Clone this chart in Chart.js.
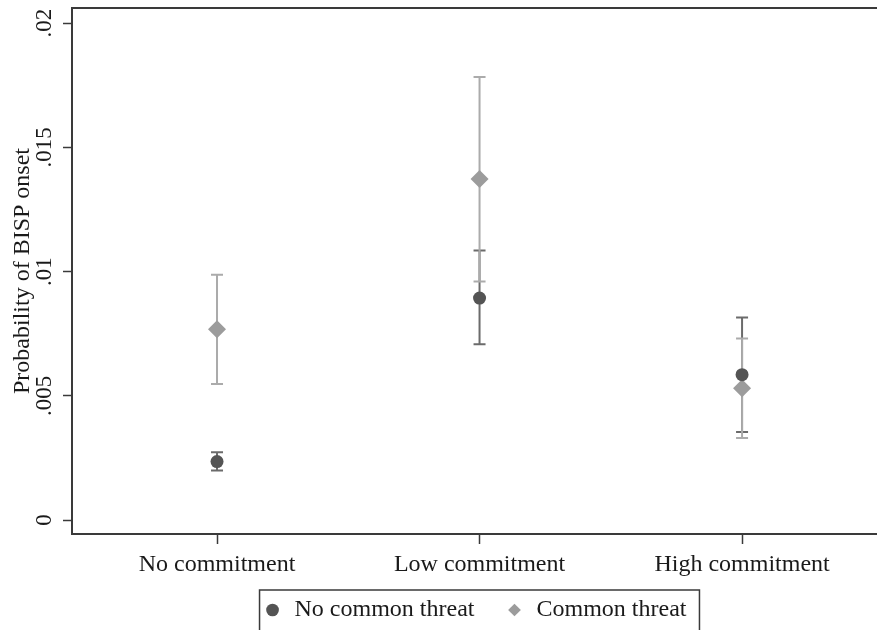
<!DOCTYPE html>
<html>
<head>
<meta charset="utf-8">
<script src="https://cdn.jsdelivr.net/npm/chart.js@4.4.1/dist/chart.umd.min.js"></script>
<style>
  html, body { margin: 0; padding: 0; background: #fff; overflow: hidden; }
  canvas { display: block; }
</style>
</head>
<body>
<canvas id="grafico" width="877" height="630"></canvas>
<script>
// categories and positions on the x axis
const categorias = ['No commitment', 'Low commitment', 'High commitment'];
const posicoes = [1, 2, 3];

// y axis ticks
const yTicksValores = [0, 0.005, 0.01, 0.015, 0.02];
const yTicksRotulos = ['0', '.005', '.01', '.015', '.02'];

// No common threat: estimate and 95% CI
const semAmeacaEst = [0.00235, 0.00893, 0.00585];
const semAmeacaMin = [0.00199, 0.00707, 0.00354];
const semAmeacaMax = [0.00273, 0.01085, 0.00815];

// Common threat: estimate and 95% CI
const ameacaEst = [0.00768, 0.01372, 0.0053];
const ameacaMin = [0.00547, 0.0096, 0.0033];
const ameacaMax = [0.00987, 0.01783, 0.0073];

const fonte = 'Liberation Serif';
const corEixo = '#3a3a3a';
const corTexto = '#1a1a1a';

function pontos(valores) {
    return valores.map((v, i) => ({ x: posicoes[i], y: v }));
}

// draws the confidence interval caps under the markers
const barrasErro = {
    id: 'barrasErro',
    beforeDatasetsDraw(chart) {
        const ctx = chart.ctx;
        const xs = chart.scales.x;
        const ys = chart.scales.y;
        chart.data.datasets.forEach(ds => {
            ctx.save();
            ctx.strokeStyle = ds.corIC;
            ctx.lineWidth = 2;
            ds.data.forEach((p, j) => {
                const x = xs.getPixelForValue(p.x);
                const y1 = ys.getPixelForValue(ds.icMin[j]);
                const y2 = ys.getPixelForValue(ds.icMax[j]);
                ctx.beginPath();
                ctx.moveTo(x, y1); ctx.lineTo(x, y2);
                ctx.moveTo(x - 6, y1); ctx.lineTo(x + 6, y1);
                ctx.moveTo(x - 6, y2); ctx.lineTo(x + 6, y2);
                ctx.stroke();
            });
            ctx.restore();
        });
    }
};

// legend sits a little higher than its layout slot
const deslocLegenda = 12;

// top frame line and the legend box
const moldura = {
    id: 'moldura',
    beforeDraw(chart) {
        chart.legend.top -= deslocLegenda;
        chart.legend.bottom -= deslocLegenda;
    },
    afterDraw(chart) {
        const ctx = chart.ctx;
        const area = chart.chartArea;
        ctx.save();
        ctx.strokeStyle = corEixo;
        ctx.lineWidth = 2;
        ctx.beginPath();
        ctx.moveTo(area.left - 1, area.top);
        ctx.lineTo(chart.width, area.top);
        ctx.stroke();

        const caixas = chart.legend.legendHitBoxes;
        if (caixas && caixas.length) {
            const esq = Math.min(...caixas.map(c => c.left)) - 3;
            const dir = Math.max(...caixas.map(c => c.left + c.width)) + 13;
            const topo = Math.min(...caixas.map(c => c.top)) - deslocLegenda - 8;
            ctx.lineWidth = 1.5;
            ctx.strokeRect(esq, topo, dir - esq, chart.height + 10 - topo);
        }
        ctx.restore();
    }
};

new Chart(document.getElementById('grafico'), {
    type: 'scatter',
    data: {
        datasets: [{
            label: 'No common threat',
            data: pontos(semAmeacaEst),
            icMin: semAmeacaMin,
            icMax: semAmeacaMax,
            corIC: '#6b6b6b',
            pointStyle: 'circle',
            pointRadius: 6.5,
            backgroundColor: '#545454',
            borderColor: '#545454',
            borderWidth: 0
        }, {
            label: 'Common threat',
            data: pontos(ameacaEst),
            icMin: ameacaMin,
            icMax: ameacaMax,
            corIC: '#ababab',
            pointStyle: 'rectRot',
            pointRadius: 9,
            backgroundColor: '#9c9c9c',
            borderColor: '#9c9c9c',
            borderWidth: 0
        }]
    },
    options: {
        responsive: false,
        animation: false,
        events: [],
        layout: { autoPadding: false, padding: { top: 8, right: 0, bottom: -14, left: 0 } },
        plugins: {
            tooltip: { enabled: false },
            legend: {
                position: 'bottom',
                fullSize: false,
                labels: {
                    usePointStyle: true,
                    boxWidth: 20,
                    boxHeight: 9,
                    padding: 30,
                    color: corTexto,
                    font: { family: fonte, size: 24 }
                }
            }
        },
        scales: {
            x: {
                type: 'linear',
                min: 0.4476,
                max: 3.514,
                afterBuildTicks: escala => {
                    escala.ticks = posicoes.map(v => ({ value: v }));
                },
                afterFit: escala => {
                    escala.height = 46;
                    escala.paddingLeft = 0;
                    escala.paddingRight = 0;
                },
                ticks: {
                    autoSkip: false,
                    maxRotation: 0,
                    padding: 6,
                    color: corTexto,
                    font: { family: fonte, size: 24 },
                    callback: v => categorias[posicoes.indexOf(v)]
                },
                grid: {
                    drawOnChartArea: false,
                    tickLength: 10,
                    tickWidth: 1.5,
                    tickColor: corEixo
                },
                border: { color: corEixo, width: 2 }
            },
            y: {
                min: -0.000563,
                max: 0.020604,
                afterBuildTicks: escala => {
                    escala.ticks = yTicksValores.map(v => ({ value: v }));
                },
                afterFit: escala => {
                    escala.width = 72;
                    escala.paddingTop = 0;
                    escala.paddingBottom = 0;
                },
                ticks: {
                    minRotation: 90,
                    maxRotation: 90,
                    crossAlign: 'center',
                    padding: -2,
                    color: corTexto,
                    font: { family: fonte, size: 23 },
                    callback: v => yTicksRotulos[yTicksValores.indexOf(v)]
                },
                grid: {
                    drawOnChartArea: false,
                    tickLength: 9,
                    tickWidth: 1.5,
                    tickColor: corEixo
                },
                border: { color: corEixo, width: 2 },
                title: {
                    display: true,
                    text: 'Probability of BISP onset',
                    color: corTexto,
                    font: { family: fonte, size: 24 },
                    padding: { top: 8, bottom: 0 }
                }
            }
        }
    },
    plugins: [barrasErro, moldura]
});
</script>
</body>
</html>
